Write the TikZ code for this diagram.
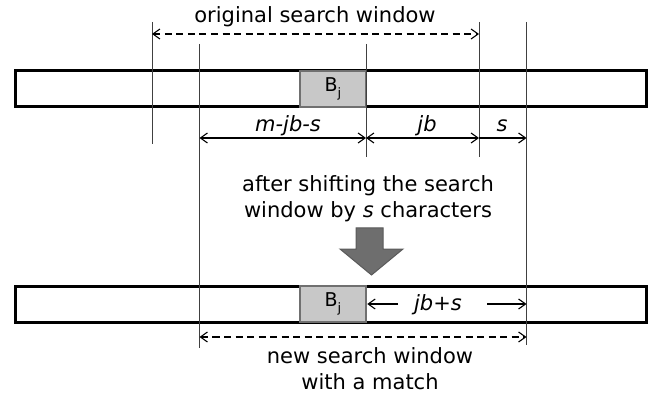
\documentclass[tikz,border=0pt]{standalone}
\usepackage{fontspec}
\setmainfont{DejaVu Sans}
\usetikzlibrary{arrows.meta}
\definecolor{blockgray}{RGB}{200,200,200}
\definecolor{blockedge}{RGB}{112,112,112}
\definecolor{shiftgray}{RGB}{110,110,110}
\definecolor{shiftedge}{RGB}{90,90,90}
\newcommand{\blockname}{B\raisebox{-0.32em}{\fontsize{13}{13}\selectfont j}}

\begin{document}
\begin{tikzpicture}[x=1pt,y=-1pt,
    bar/.style={draw,line width=3pt,minimum width=631pt,minimum height=36pt,inner sep=0pt},
    blk/.style={draw=blockedge,fill=blockgray,line width=2.5pt,minimum width=66pt,minimum height=36pt,inner sep=0pt,font=\fontsize{19}{19}\selectfont},
    lbl/.style={font=\fontsize{21}{26}\selectfont,inner sep=0pt,anchor=base,align=center},
    guide/.style={draw=black!75,line width=0.9pt},
    barb/.tip={Straight Barb[length=7pt,width=10pt]},
    dim/.style={line width=1.1pt,barb-barb},
    dimr/.style={line width=1.1pt,-barb},
    win/.style={dim,dash pattern=on 7pt off 4.5pt}]
  \useasboundingbox (0,0) rectangle (655,395);
  % strings and matching block
  \node[bar] (oldbar) at (331,89) {};
  \node[blk] (bj1) at (333,89) {\blockname};
  \node[bar] (newbar) at (331,304) {};
  \node[blk] (bj2) at (333,304) {\blockname};
  % guide lines
  \foreach \name/\x/\top/\bot in {ga/152/22/144, gb/199.5/44/348, gc/366/44/157, gd/479/22/157, ge/526.5/22/345} {
    \coordinate (\name-t) at (\x,\top);
    \coordinate (\name-b) at (\x,\bot);
    \draw[guide] (\name-t) -- (\name-b);
  }
  \coordinate (oldrow) at (0,34);
  \coordinate (dimrow) at (0,138);
  \coordinate (newrow) at (0,337);
  % labels
  \node[lbl] (oldwin) at (315,23) {original search window};
  \node[lbl] (mjbs) at (288,132) {\textit{m-jb-s}};
  \node[lbl] (jb) at (427,132) {\textit{jb}};
  \node[lbl] (s) at (502,132) {\textit{s}};
  \node[lbl] (shift) at (368,218) {after shifting the search\\window by \textit{s} characters};
  \node[lbl] (jbs) at (438,310) {\textit{jb+s}};
  \node[lbl] (newwin) at (370,389) {new search window\\with a match};
  % dimensions
  \draw[win] (ga-t |- oldrow) -- (gd-t |- oldrow);
  \draw[dim] (gb-t |- dimrow) -- (gc-t |- dimrow);
  \draw[dim] (gc-t |- dimrow) -- (gd-t |- dimrow);
  \draw[dimr] (gd-t |- dimrow) -- (ge-t |- dimrow);
  \coordinate (jl) at (398,304);
  \coordinate (jr) at (487,304);
  \draw[dimr] (jl) -- (bj2.east);
  \draw[dimr] (jr) -- (ge-t |- jr);
  \draw[win] (gb-t |- newrow) -- (ge-t |- newrow);
  % shift arrow
  \filldraw[fill=shiftgray,draw=shiftedge,line width=1pt] (356,228) -- (383,228) -- (383,249) -- (403,249) -- (371.5,275) -- (340,249) -- (356,249) -- cycle;
\end{tikzpicture}
\end{document}
